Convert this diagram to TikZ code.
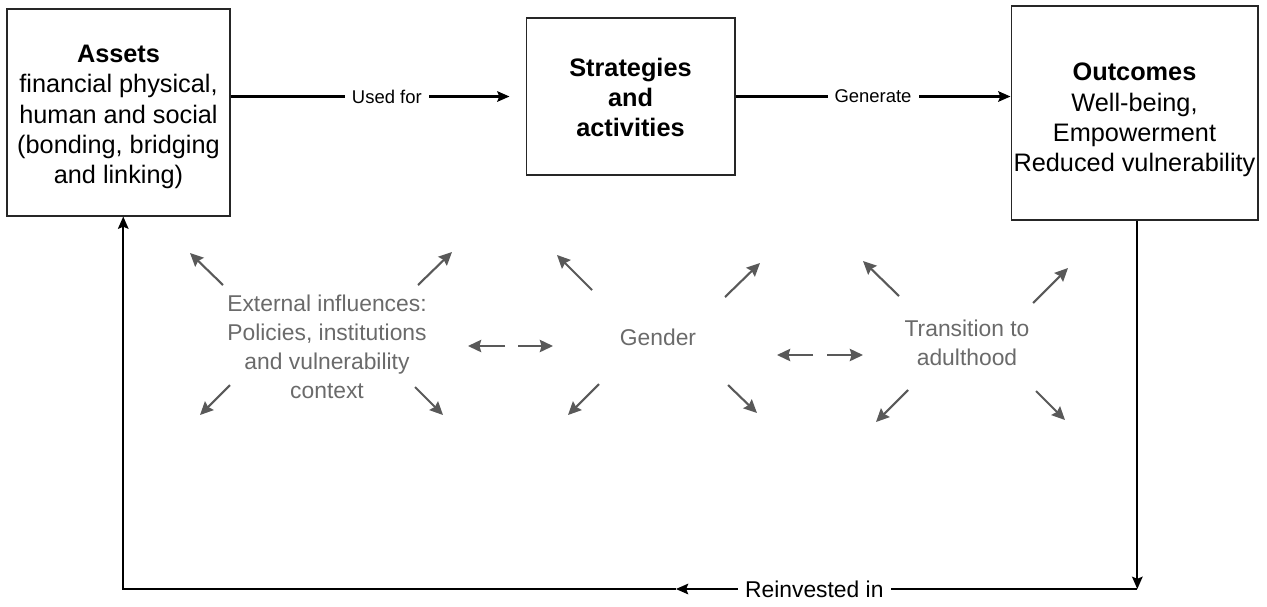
\documentclass[tikz,border=0pt]{standalone}
\usepackage{fontspec}
\setmainfont{Liberation Sans}
\usetikzlibrary{calc,arrows.meta}

\definecolor{infgray}{HTML}{6A6A6A}
\definecolor{arrgray}{HTML}{595959}

\begin{document}
\begin{tikzpicture}[x=0.02cm, y=-0.02cm,
    box/.style={draw=black!85, line width=0.6pt},
    boxtext/.style={align=center, inner sep=0pt, font=\fontsize{14.4}{17.3}\selectfont},
    link/.style={line width=1.2pt, -{Stealth[length=7pt,width=6pt,inset=1.2pt]}},
    lbl/.style={fill=white, inner xsep=4pt, inner ysep=2pt,
        font=\fontsize{10.5}{12}\selectfont},
    infl/.style={draw=arrgray, line width=1.2pt,
        -{Stealth[length=7.5pt,width=7pt,inset=1pt]}},
    inftext/.style={text=infgray, align=center, font=\fontsize{13}{16.4}\selectfont}]

        % Level of the bottom return line
        \pgfmathsetmacro{\basey}{589}

        \useasboundingbox (0,0) rectangle (1267,606);

        % The three main boxes and their texts
        \node[box, minimum width=4.46cm, minimum height=4.14cm] (assets) at (118.5,112.5) {};
        \node[boxtext] (assetstext) at ([yshift=-2.6pt]assets.center)
            {\textbf{Assets}\\financial physical,\\human and social\\(bonding, bridging\\and linking)};
        \node[box, minimum width=4.18cm, minimum height=3.14cm] (strat) at (630.5,96.5) {};
        \node[boxtext, font=\fontsize{14.4}{17.3}\selectfont\bfseries] (strattext)
            at ([yshift=-0.5pt]strat.center) {Strategies\\and\\activities};
        \node[box, minimum width=4.94cm, minimum height=4.28cm] (outc) at (1134.5,113) {};
        \node[boxtext] (outctext) at ([yshift=-4pt]outc.center)
            {\textbf{Outcomes}\\Well-being,\\Empowerment\\Reduced vulnerability};

        % Top row of links
        \draw[link, shorten >=0.32cm] (assets.east |- strat.west)
            -- node[lbl, pos=0.53] {Used for} (strat.west);
        \draw[link] (strat.east) -- node[lbl] {Generate} (outc.west |- strat.east);

        % Return loop along the bottom, with its arrow part way along
        \coordinate (R0) at ([xshift=1.6pt]outc.south);
        \coordinate (R4) at ([xshift=2.7pt]assets.south);
        \coordinate (R1) at (R0 |- 0,\basey);
        \coordinate (R2) at (R4 |- 0,\basey);
        \path (R1) -- (R2) coordinate[pos=0.455](R3);

        \draw[link] (R0) -- (R1);
        \draw[link] (R1) -- node[lbl, pos=0.70, font=\fontsize{13}{15}\selectfont]
            {Reinvested in} (R3);
        \draw[link] (R3) -- (R2) -- (R4);

        % Influences in grey
        \node[inftext] (ext) at (327,347)
            {External influences:\\Policies, institutions\\and vulnerability\\context};
        \node[inftext] (gender) at (658,337) {Gender};
        \node[inftext] (trans) at (967,343) {Transition to\\adulthood};

        % arrows spreading out from each influence
        \begin{scope}
            \draw[infl] ([shift={(-104,-62)}]ext.center) -- ++(-33,-32);
            \draw[infl] ([shift={(91,-62)}]ext.center) -- ++(34,-33);
            \draw[infl] ([shift={(-97,38)}]ext.center) -- ++(-30,30);
            \draw[infl] ([shift={(88,40)}]ext.center) -- ++(28,28);

            \draw[infl] ([shift={(-66,-47)}]gender.center) -- ++(-35,-35);
            \draw[infl] ([shift={(-59,47)}]gender.center) -- ++(-31,31);
            \draw[infl] ([shift={(67,-40)}]gender.center) -- ++(35,-34);
            \draw[infl] ([shift={(70,48)}]gender.center) -- ++(29,28);

            \draw[infl] ([shift={(-68,-47)}]trans.center) -- ++(-36,-35);
            \draw[infl] ([shift={(-59,47)}]trans.center) -- ++(-32,32);
            \draw[infl] ([shift={(66,-40)}]trans.center) -- ++(35,-35);
            \draw[infl] ([shift={(69,48)}]trans.center) -- ++(29,29);
        \end{scope}

        % paired arrows between the influences
        \begin{scope}
            \draw[infl] (505,346) -- (468,346);
            \draw[infl] (518,346) -- (553,346);
            \draw[infl] (813,355) -- (777,355);
            \draw[infl] (827,355) -- (863,355);
        \end{scope}

\end{tikzpicture}
\end{document}
